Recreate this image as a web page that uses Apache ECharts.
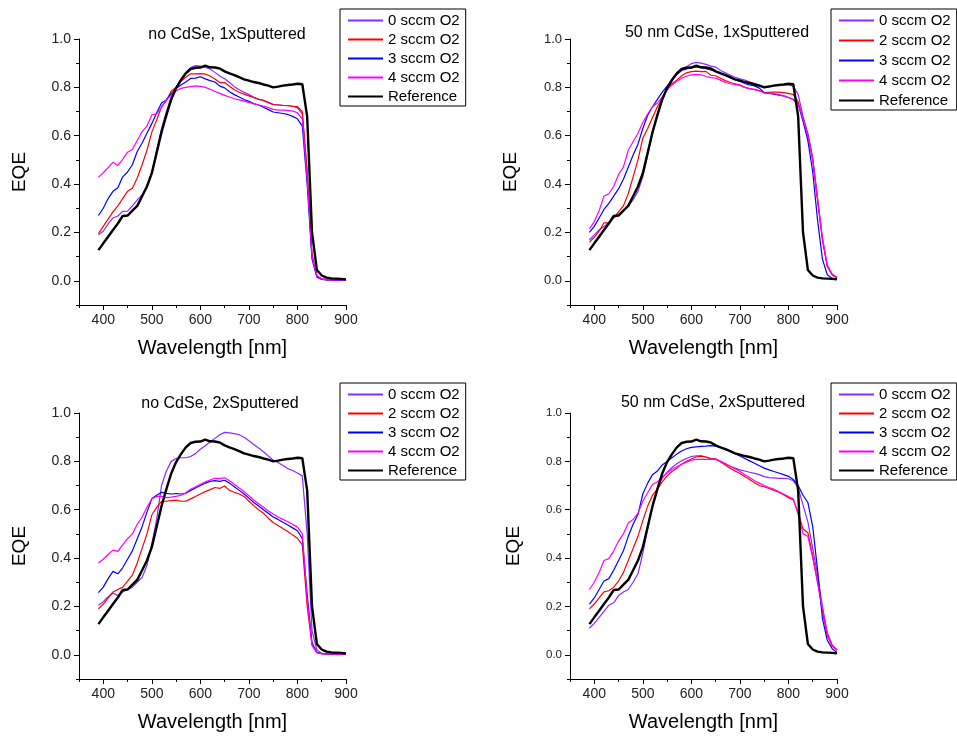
<!DOCTYPE html>
<html><head><meta charset="utf-8">
<script src="https://cdn.jsdelivr.net/npm/echarts@6/dist/echarts.min.js"></script>
<style>html,body{margin:0;padding:0;background:#fff}#c{width:957px;height:736px}</style>
</head><body><div id="c"></div>
<script>
const wavelength = [390,400,410,420,430,440,450,460,470,480,490,500,510,520,530,540,550,560,570,580,590,600,610,620,630,640,650,660,670,680,690,700,710,720,730,740,750,760,770,780,790,800,810,820,830,840,850,860,870,880,890,900];

const reference = [0.127,0.155,0.182,0.21,0.237,0.268,0.27,0.29,0.31,0.35,
 0.39,0.445,0.53,0.615,0.685,0.75,0.797,0.83,0.858,0.876,
 0.881,0.882,0.89,0.883,0.882,0.878,0.866,0.858,0.851,0.842,
 0.833,0.828,0.822,0.818,0.812,0.807,0.8,0.803,0.807,0.81,
 0.812,0.815,0.813,0.68,0.2,0.045,0.022,0.013,0.01,0.009,
 0.008,0.006];

// Panel 1: no CdSe, 1xSputtered
const p1_0 = [0.19,0.205,0.235,0.26,0.268,0.287,0.288,0.31,0.335,0.355,
 0.39,0.45,0.54,0.63,0.70,0.76,0.80,0.835,0.862,0.882,
 0.89,0.888,0.882,0.876,0.862,0.847,0.836,0.82,0.803,0.79,
 0.78,0.77,0.76,0.752,0.745,0.738,0.73,0.728,0.726,0.725,
 0.722,0.715,0.69,0.45,0.1,0.02,0.008,0.005,0.004,0.004,
 0.004,0.003];
const p1_2 = [0.195,0.225,0.255,0.285,0.31,0.34,0.37,0.383,0.425,0.48,
 0.54,0.615,0.665,0.72,0.745,0.785,0.80,0.825,0.842,0.856,
 0.856,0.857,0.855,0.847,0.835,0.82,0.82,0.805,0.79,0.78,
 0.772,0.765,0.757,0.75,0.746,0.737,0.728,0.727,0.725,0.724,
 0.722,0.72,0.70,0.45,0.11,0.02,0.008,0.005,0.004,0.004,
 0.004,0.003];
const p1_3 = [0.27,0.30,0.34,0.37,0.385,0.43,0.45,0.48,0.535,0.57,
 0.61,0.65,0.695,0.735,0.748,0.775,0.795,0.81,0.822,0.837,
 0.838,0.844,0.835,0.828,0.822,0.805,0.798,0.782,0.77,0.76,
 0.75,0.742,0.733,0.727,0.718,0.708,0.698,0.695,0.692,0.688,
 0.68,0.67,0.64,0.40,0.09,0.015,0.006,0.004,0.004,0.003,
 0.003,0.003];
const p1_4 = [0.428,0.447,0.468,0.49,0.477,0.502,0.532,0.543,0.58,0.617,
 0.64,0.686,0.69,0.717,0.748,0.768,0.785,0.796,0.80,0.803,
 0.806,0.804,0.80,0.792,0.783,0.775,0.767,0.76,0.753,0.748,
 0.743,0.738,0.732,0.727,0.723,0.716,0.709,0.706,0.706,0.705,
 0.702,0.695,0.67,0.42,0.1,0.02,0.007,0.005,0.004,0.004,
 0.004,0.003];

// Panel 2: 50 nm CdSe, 1xSputtered
const p2_0 = [0.17,0.19,0.21,0.225,0.24,0.26,0.275,0.29,0.31,0.335,
 0.37,0.43,0.52,0.61,0.69,0.75,0.80,0.835,0.86,0.875,
 0.885,0.898,0.903,0.9,0.895,0.888,0.884,0.87,0.86,0.85,
 0.842,0.835,0.83,0.822,0.817,0.81,0.803,0.806,0.808,0.81,
 0.81,0.81,0.805,0.77,0.68,0.61,0.51,0.34,0.17,0.06,
 0.025,0.012];
const p2_2 = [0.16,0.18,0.205,0.24,0.24,0.26,0.285,0.31,0.36,0.43,
 0.50,0.59,0.63,0.675,0.72,0.755,0.79,0.815,0.83,0.848,
 0.86,0.865,0.867,0.865,0.866,0.85,0.848,0.838,0.828,0.82,
 0.815,0.81,0.8,0.795,0.792,0.787,0.778,0.779,0.78,0.78,
 0.778,0.775,0.77,0.74,0.67,0.60,0.50,0.33,0.17,0.06,
 0.025,0.012];
const p2_3 = [0.20,0.225,0.26,0.295,0.32,0.35,0.38,0.42,0.47,0.52,
 0.565,0.63,0.685,0.72,0.75,0.78,0.805,0.83,0.853,0.87,
 0.876,0.88,0.885,0.882,0.877,0.872,0.866,0.86,0.85,0.84,
 0.832,0.825,0.816,0.81,0.806,0.797,0.778,0.775,0.772,0.768,
 0.765,0.758,0.75,0.73,0.66,0.58,0.45,0.25,0.09,0.025,
 0.01,0.008];
const p2_4 = [0.215,0.245,0.29,0.35,0.36,0.39,0.44,0.47,0.54,0.575,
 0.61,0.655,0.69,0.72,0.735,0.76,0.79,0.81,0.825,0.838,
 0.846,0.852,0.854,0.852,0.845,0.84,0.838,0.83,0.82,0.815,
 0.812,0.808,0.8,0.795,0.79,0.785,0.777,0.776,0.774,0.77,
 0.765,0.758,0.75,0.73,0.67,0.60,0.50,0.34,0.18,0.065,
 0.028,0.015];

// Panel 3: no CdSe, 2xSputtered
const p3_0 = [0.205,0.22,0.24,0.255,0.245,0.26,0.27,0.28,0.30,0.32,
 0.37,0.46,0.56,0.70,0.76,0.80,0.812,0.815,0.815,0.82,
 0.832,0.85,0.865,0.88,0.895,0.91,0.92,0.918,0.915,0.91,
 0.90,0.885,0.87,0.855,0.84,0.822,0.805,0.795,0.783,0.77,
 0.762,0.752,0.74,0.5,0.1,0.02,0.006,0.005,0.004,0.004,
 0.004,0.003];
const p3_2 = [0.19,0.21,0.235,0.26,0.27,0.28,0.305,0.33,0.38,0.44,
 0.5,0.578,0.61,0.635,0.635,0.638,0.64,0.635,0.635,0.645,
 0.655,0.665,0.675,0.683,0.692,0.688,0.698,0.68,0.672,0.665,
 0.655,0.635,0.617,0.6,0.585,0.565,0.547,0.535,0.522,0.51,
 0.495,0.482,0.455,0.2,0.04,0.01,0.005,0.004,0.004,0.003,
 0.003,0.003];
const p3_3 = [0.257,0.28,0.315,0.345,0.335,0.36,0.395,0.43,0.48,0.53,
 0.59,0.645,0.66,0.672,0.668,0.665,0.667,0.665,0.668,0.68,
 0.69,0.70,0.71,0.717,0.72,0.717,0.722,0.71,0.695,0.68,
 0.665,0.648,0.63,0.615,0.60,0.585,0.57,0.56,0.548,0.537,
 0.525,0.513,0.48,0.25,0.05,0.01,0.005,0.004,0.004,0.003,
 0.003,0.003];
const p3_4 = [0.38,0.395,0.415,0.433,0.428,0.455,0.48,0.5,0.54,0.57,
 0.61,0.645,0.655,0.655,0.65,0.652,0.655,0.66,0.67,0.685,
 0.695,0.705,0.715,0.723,0.73,0.73,0.732,0.72,0.705,0.69,
 0.675,0.658,0.64,0.625,0.61,0.595,0.582,0.57,0.56,0.55,
 0.54,0.528,0.5,0.23,0.04,0.008,0.005,0.004,0.004,0.003,
 0.003,0.003];

// Panel 4: 50 nm CdSe, 2xSputtered
const p4_0 = [0.11,0.13,0.155,0.18,0.205,0.215,0.245,0.26,0.27,0.30,
 0.335,0.42,0.52,0.62,0.69,0.73,0.755,0.775,0.79,0.803,
 0.812,0.82,0.823,0.823,0.818,0.812,0.81,0.8,0.79,0.78,
 0.772,0.765,0.76,0.755,0.75,0.745,0.737,0.733,0.732,0.73,
 0.73,0.728,0.72,0.69,0.62,0.55,0.44,0.33,0.2,0.09,
 0.04,0.02];
const p4_2 = [0.19,0.21,0.235,0.26,0.265,0.28,0.305,0.34,0.39,0.44,
 0.49,0.555,0.615,0.66,0.685,0.715,0.74,0.758,0.772,0.788,
 0.8,0.81,0.818,0.822,0.818,0.81,0.81,0.798,0.785,0.772,
 0.76,0.75,0.737,0.725,0.712,0.70,0.695,0.688,0.68,0.672,
 0.662,0.65,0.64,0.59,0.52,0.505,0.41,0.3,0.18,0.08,
 0.035,0.02];
const p4_3 = [0.21,0.235,0.27,0.305,0.315,0.35,0.39,0.43,0.49,0.54,
 0.58,0.665,0.71,0.745,0.76,0.785,0.80,0.815,0.83,0.843,
 0.852,0.858,0.86,0.862,0.863,0.865,0.863,0.858,0.852,0.843,
 0.832,0.822,0.812,0.802,0.792,0.782,0.772,0.765,0.758,0.752,
 0.745,0.738,0.725,0.70,0.66,0.63,0.53,0.35,0.15,0.06,
 0.025,0.01];
const p4_4 = [0.27,0.30,0.34,0.39,0.398,0.43,0.47,0.5,0.545,0.56,
 0.585,0.635,0.67,0.705,0.715,0.735,0.752,0.767,0.778,0.788,
 0.797,0.805,0.808,0.808,0.808,0.808,0.808,0.8,0.79,0.78,
 0.77,0.758,0.745,0.733,0.72,0.71,0.70,0.692,0.685,0.675,
 0.665,0.655,0.645,0.58,0.5,0.49,0.4,0.3,0.19,0.09,
 0.04,0.02];

const seriesNames = ['0 sccm O2','2 sccm O2','3 sccm O2','4 sccm O2','Reference'];
const panelTitles = ['no CdSe, 1xSputtered','50 nm CdSe, 1xSputtered','no CdSe, 2xSputtered','50 nm CdSe, 2xSputtered'];
const xTickValues = [400,500,600,700,800,900];
const yTickValues = [0,0.2,0.4,0.6,0.8,1.0];
const xAxisTitle = 'Wavelength [nm]';
const yAxisTitle = 'EQE';

const colors = ['#8B2BFF','#FF0000','#0000FF','#FF00FF','#000000'];
const widths = [1.2,1.2,1.2,1.2,2.4];
const FONT = '"Liberation Sans", Arial, sans-serif';

const panels = [
  {data:[p1_0,p1_2,p1_3,p1_4,reference], grid:{left:79,top:39,width:267,height:266}, title:[227,35], legend:{left:340,top:9,gap:4}, yLabel:14, yGap:50},
  {data:[p2_0,p2_2,p2_3,p2_4,reference], grid:{left:570,top:39,width:267,height:266}, title:[717,33], legend:{left:831,top:9,gap:5}, yLabel:13, yGap:50},
  {data:[p3_0,p3_2,p3_3,p3_4,reference], grid:{left:79,top:413,width:267,height:266}, title:[220,404], legend:{left:340,top:383,gap:4}, yLabel:14, yGap:50},
  {data:[p4_0,p4_2,p4_3,p4_4,reference], grid:{left:570,top:413,width:267,height:266}, title:[713,403], legend:{left:831,top:383,gap:4}, yLabel:11.5, yGap:47}
];

const option = {animation:false, backgroundColor:'#fff', grid:[], xAxis:[], yAxis:[], series:[], legend:[], graphic:[]};
panels.forEach((p,i)=>{
  option.grid.push(Object.assign({containLabel:false}, p.grid));
  option.xAxis.push({type:'value', gridIndex:i, min:350, max:900, interval:50, position:'bottom',
    axisLine:{show:true, onZero:false, lineStyle:{color:'#000', width:1}},
    axisTick:{show:true, length:5, customValues:xTickValues, lineStyle:{color:'#000'}},
    axisLabel:{customValues:xTickValues, fontSize:14, color:'#222', margin:8, fontFamily:FONT},
    splitLine:{show:false},
    name:xAxisTitle, nameLocation:'middle', nameGap:33, nameTextStyle:{fontSize:20, color:'#000', fontFamily:FONT}});
  option.xAxis.push({type:'value', gridIndex:i, min:350, max:900, interval:50, position:'bottom',
    axisLine:{show:false, onZero:false}, axisTick:{show:true, length:3, lineStyle:{color:'#000'}},
    axisLabel:{show:false}, splitLine:{show:false}});
  option.yAxis.push({type:'value', gridIndex:i, min:-0.1, max:1.0, interval:0.1, position:'left',
    axisLine:{show:true, onZero:false, lineStyle:{color:'#000', width:1}},
    axisTick:{show:true, length:5, customValues:yTickValues, lineStyle:{color:'#000'}},
    axisLabel:{customValues:yTickValues, formatter:v=>Number(v).toFixed(1), fontSize:p.yLabel, color:'#222', margin:8, fontFamily:FONT},
    splitLine:{show:false},
    name:yAxisTitle, nameLocation:'middle', nameGap:p.yGap, nameRotate:90, nameTextStyle:{fontSize:19, color:'#000', fontFamily:FONT}});
  option.yAxis.push({type:'value', gridIndex:i, min:-0.1, max:1.0, interval:0.1, position:'left',
    axisLine:{show:false, onZero:false}, axisTick:{show:true, length:3, lineStyle:{color:'#000'}},
    axisLabel:{show:false}, splitLine:{show:false}});
  p.data.forEach((arr,k)=>{
    option.series.push({type:'line', name:seriesNames[k], xAxisIndex:2*i, yAxisIndex:2*i,
      data: wavelength.map((w,j)=>[w, arr[j]]), symbol:'none', showSymbol:false,
      lineStyle:{color:colors[k], width:widths[k]}, itemStyle:{color:colors[k]}, z:2+k});
  });
  option.legend.push({orient:'vertical', left:p.legend.left, top:p.legend.top, data:seriesNames,
    itemWidth:35, itemHeight:14, itemGap:p.legend.gap, padding:[4,6,2,7], borderColor:'#000', borderWidth:1,
    selectedMode:false, itemStyle:{opacity:0, borderWidth:0},
    textStyle:{fontSize:15, lineHeight:15, color:'#000', fontFamily:FONT}});
  option.graphic.push({type:'text', x:p.title[0], y:p.title[1], style:{text:panelTitles[i], align:'center', verticalAlign:'middle', font:'16px ' + FONT, fill:'#000'}});
});
const chart = echarts.init(document.getElementById('c'), null, {renderer:'canvas'});
chart.setOption(option);
</script></body></html>
